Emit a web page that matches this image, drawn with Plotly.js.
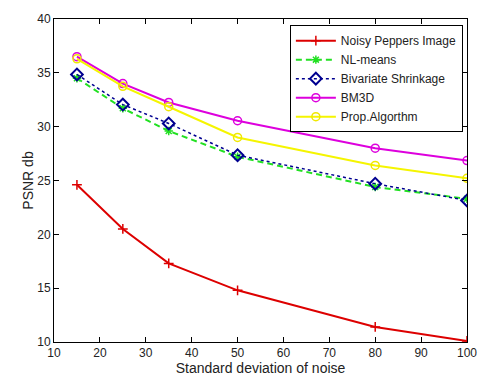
<!DOCTYPE html>
<html>
<head>
<meta charset="utf-8">
<script src="https://cdn.plot.ly/plotly-3.0.1.min.js"></script>
<style>html,body{margin:0;padding:0;background:#fff;}#chart{width:478px;height:379px;}</style>
</head>
<body>
<div id="chart"></div>
<script>
const noiseSigma = [15, 25, 35, 50, 80, 100];
const noisyPeppers = [24.6, 20.5, 17.3, 14.8, 11.4, 10.1];
const nlMeans = [34.5, 31.7, 29.6, 27.2, 24.4, 23.3];
const bivariate = [34.85, 32.05, 30.3, 27.35, 24.7, 23.15];
const bm3d = [36.5, 34.0, 32.25, 30.55, 28.0, 26.85];
const propAlg = [36.3, 33.75, 31.85, 29.0, 26.4, 25.2];
const xTicks = [10, 20, 30, 40, 50, 60, 70, 80, 90, 100];
const yTicks = [10, 15, 20, 25, 30, 35, 40];

const traces = [
  {x: noiseSigma, y: noisyPeppers, name: 'Noisy Peppers Image', mode: 'lines+markers',
   line: {color: '#dd0000', width: 2}, marker: {symbol: 'cross-thin-open', size: 7, color: '#dd0000', line: {color: '#dd0000', width: 1.5}}},
  {x: noiseSigma, y: nlMeans, name: 'NL-means', mode: 'lines+markers',
   line: {color: '#22e022', width: 2, dash: '6px,4px'}, marker: {symbol: 'asterisk-open', size: 7, color: '#22e022', line: {color: '#22e022', width: 1.5}}},
  {x: noiseSigma, y: bivariate, name: 'Bivariate Shrinkage', mode: 'lines+markers',
   line: {color: '#000090', width: 1.5, dash: 'dot'}, marker: {symbol: 'diamond-open', size: 9, color: '#000090', line: {color: '#000090', width: 2}}},
  {x: noiseSigma, y: bm3d, name: 'BM3D', mode: 'lines+markers',
   line: {color: '#dd00dd', width: 2}, marker: {symbol: 'circle-open', size: 8, color: '#dd00dd', line: {color: '#dd00dd', width: 1.5}}},
  {x: noiseSigma, y: propAlg, name: 'Prop.Algorthm', mode: 'lines+markers',
   line: {color: '#f5f500', width: 2}, marker: {symbol: 'circle-open', size: 8, color: '#f0e800', line: {color: '#f0e800', width: 1.5}}}
];

const axisCommon = {
  showline: true, linecolor: '#000', linewidth: 1, mirror: 'ticks',
  ticks: 'inside', ticklen: 5, tickcolor: '#000', showgrid: false, zeroline: false,
  tickfont: {family: 'Liberation Sans, Arial, sans-serif', size: 12, color: '#222'}
};

const layout = {
  width: 478, height: 379,
  margin: {l: 54, r: 11, t: 19, b: 37},
  paper_bgcolor: '#fff', plot_bgcolor: '#fff',
  font: {family: 'Liberation Sans, Arial, sans-serif', size: 12, color: '#222'},
  xaxis: Object.assign({}, axisCommon, {range: [10, 100], tickvals: xTicks, ticktext: xTicks.map(String),
    title: {text: 'Standard deviation of noise', font: {size: 14, color: '#222'}, standoff: 2}}),
  yaxis: Object.assign({}, axisCommon, {range: [10, 40], tickvals: yTicks, ticktext: yTicks.map(String),
    title: {text: 'PSNR db', font: {size: 14, color: '#222'}, standoff: 0}}),
  showlegend: true,
  legend: {x: 0.99, y: 0.981, xanchor: 'right', yanchor: 'top', bgcolor: '#fff',
    bordercolor: '#000', borderwidth: 1, font: {size: 12, color: '#222'}, tracegroupgap: 0,
    itemwidth: 40}
};

Plotly.newPlot('chart', traces, layout, {displayModeBar: false, staticPlot: true});
</script>
</body>
</html>
